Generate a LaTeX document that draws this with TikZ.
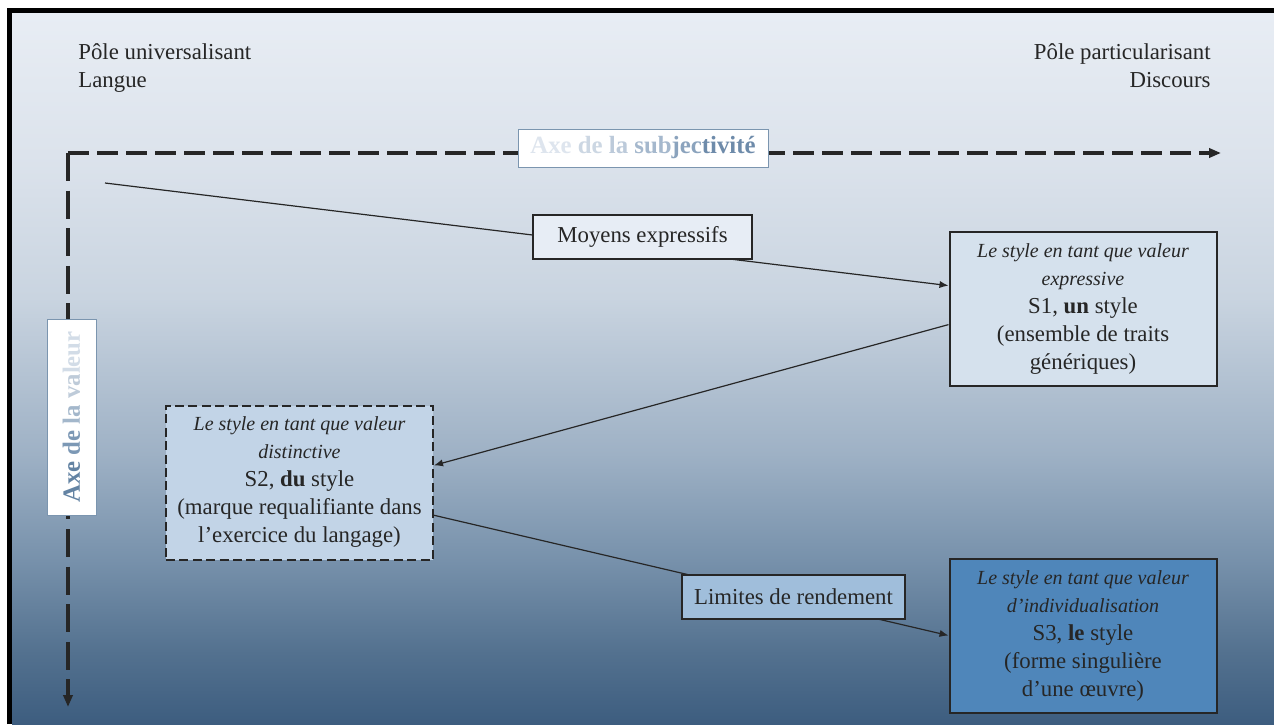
\documentclass[tikz,border=0pt]{standalone}
\usepackage{fontspec}
\setmainfont{Liberation Serif}
\usetikzlibrary{arrows.meta,positioning,calc}
\definecolor{ink}{HTML}{262626}
\definecolor{bgtop}{HTML}{E8EDF4}
\definecolor{bgupper}{HTML}{DCE3EC}
\definecolor{bgmid}{HTML}{C9D4E0}
\definecolor{bglow}{HTML}{9EB1C5}
\definecolor{bgdeep}{HTML}{7791AB}
\definecolor{bgfoot}{HTML}{53718F}
\definecolor{bgbot}{HTML}{3D5D7F}
\definecolor{pastelbox}{HTML}{E7EDF5}
\definecolor{boxone}{HTML}{D5E1ED}
\definecolor{boxtwo}{HTML}{C2D4E7}
\definecolor{limbox}{HTML}{A0BEDB}
\definecolor{boxthree}{HTML}{4F86BA}
\definecolor{axframe}{HTML}{7B95AF}
\definecolor{axa}{HTML}{DEE5EE}
\definecolor{axb}{HTML}{CCD7E3}
\definecolor{axc}{HTML}{BCCADA}
\definecolor{axd}{HTML}{A5B8CD}
\definecolor{axe}{HTML}{8BA3BD}
\definecolor{axf}{HTML}{6E8BAA}
\definecolor{vxa}{HTML}{6383A3}
\definecolor{vxb}{HTML}{7C98B5}
\definecolor{vxc}{HTML}{A3B7CB}
\definecolor{vxd}{HTML}{BECBD9}
\definecolor{vxe}{HTML}{D2DCE7}
\pgfdeclareverticalshading{pageshade}{100bp}{color(0bp)=(bgbot); color(25bp)=(bgbot);
  color(30bp)=(bgfoot); color(36.5bp)=(bgdeep); color(44bp)=(bglow);
  color(55bp)=(bgmid); color(65bp)=(bgupper); color(75bp)=(bgtop); color(100bp)=(bgtop)}
\pgfdeclarelayer{shadelayer}
\pgfdeclarelayer{linelayer}
\pgfsetlayers{shadelayer,linelayer,main}
\newcommand\stit[1]{{\fontsize{10}{14}\selectfont\itshape #1}}

\begin{document}
\begin{tikzpicture}[x=0.5pt, y=-0.5pt,
  font=\fontsize{11.4}{14}\selectfont, line join=miter,
  pole/.style={inner sep=0pt, text=ink},
  sbox/.style={draw=ink, line width=1pt, text=ink, align=flush center,
               text width=130pt, inner xsep=1.75pt,
               minimum width=133.5pt, minimum height=77pt},
  tagbox/.style={draw=ink, line width=1pt, text=ink, inner sep=0pt,
                 minimum height=22pt},
  axlabel/.style={draw=axframe, line width=0.5pt, fill=white, inner sep=0pt,
                  font=\fontsize{12.4}{14}\selectfont\bfseries},
  axisline/.style={-{Triangle[length=6pt,width=4.6pt]}, ink, line width=2pt},
  fl/.style={-{Latex[length=4.5pt,width=3.6pt]}, ink, line width=0.6pt}]
\useasboundingbox (0,0) rectangle (1274,724);

% ================================================================ page
\begin{pgfonlayer}{shadelayer}
  \fill[white] (0,0) rectangle (1274,724);
  \shade[shading=pageshade] (12,13) rectangle (1274,724);
  \draw[black, line width=2.5pt] (9.7,724) -- (9.7,10.7) -- (1274,10.7);
\end{pgfonlayer}

% ================================================================ poles
\node[pole, anchor=north west, align=left] (univ) at (78,43)
  {Pôle universalisant\\Langue};
\node[pole, anchor=north east, align=right] (partic) at (1211,43)
  {Pôle particularisant\\Discours};

% ================================================================ axes
\coordinate (orig) at (68,153);
\coordinate (xend) at (1221,153);
\coordinate (yend) at (68,707);
\node[axlabel, minimum width=125pt, minimum height=19pt] (subj) at (643,148)
  {{\color{axa}Axe} {\color{axb}de} {\color{axc}la}
   {\color{axd}sub}{\color{axe}jec}{\color{axf}tivité}};
\node[axlabel, rotate=90, minimum width=98pt, minimum height=24.5pt] (val)
  at (71.5,417)
  {{\color{vxa}Axe} {\color{vxb}de} {\color{vxc}la}
   {\color{vxd}va}{\color{vxe}leur}};

% ================================================================ the three styles
\node[sbox, fill=boxone] (s1) at (1083,309)
  {\stit{Le style en tant que valeur}\\\stit{expressive}\\
   S1, \textbf{un} style\\(ensemble de traits\\génériques)};
\node[sbox, fill=boxtwo, dash pattern=on 4.5pt off 2.2pt] (s2) at (299.5,482.5)
  {\stit{Le style en tant que valeur}\\\stit{distinctive}\\
   S2, \textbf{du} style\\(marque requalifiante dans\\l’exercice du langage)};
\node[sbox, fill=boxthree] (s3) at (1083,635.5)
  {\stit{Le style en tant que valeur}\\\stit{d’individualisation}\\
   S3, \textbf{le} style\\(forme singulière\\d’une œuvre)};

\node[tagbox, fill=pastelbox, minimum width=109.5pt] (moyens) at (642.5,236.5)
  {Moyens expressifs};
\node[tagbox, fill=limbox, minimum width=111.5pt] (limites) at (793.5,597)
  {Limites de rendement};

% ================================================================ connectors
\coordinate (start) at (105,183);
\begin{pgfonlayer}{linelayer}
  \draw[axisline, dash pattern=on 10.5pt off 4pt] (orig) -- (xend);
  \draw[axisline, dash pattern=on 14pt off 4.8pt] (orig) -- (yend);
  \draw[fl] (start) -- ($(s1.north west)!0.35!(s1.south west)$);
  \draw[fl] ($(s1.north west)!0.60!(s1.south west)$)
    -- ($(s2.north east)!0.39!(s2.south east)$);
  \draw[fl] ($(s2.north east)!0.71!(s2.south east)$)
    -- ($(s3.north west)!0.50!(s3.south west)$);
\end{pgfonlayer}

\end{tikzpicture}
\end{document}
